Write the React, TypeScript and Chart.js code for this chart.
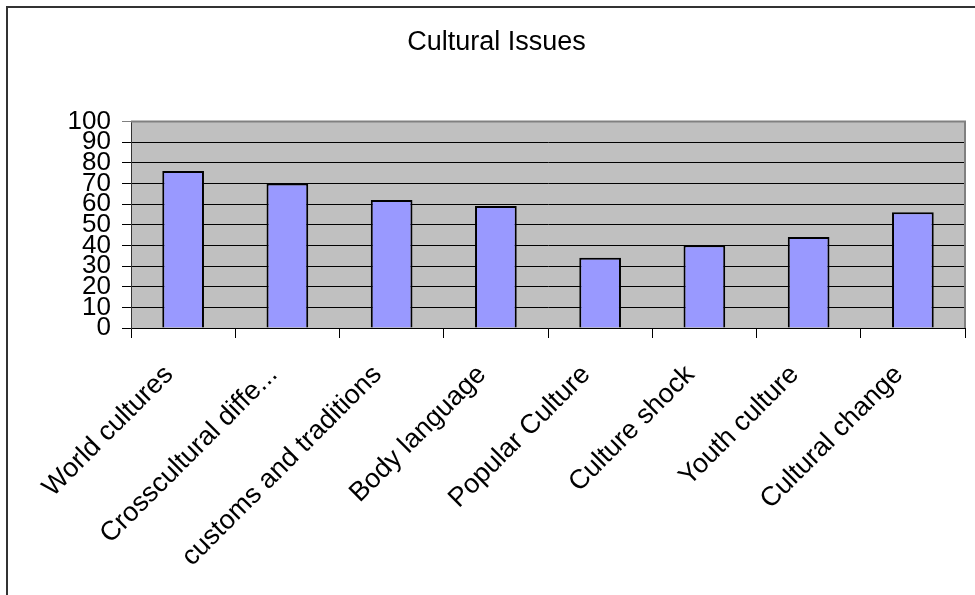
import React, { useEffect, useRef } from "react";
import { Chart, registerables } from "chart.js";

Chart.register(...registerables);

const TITLE = "Cultural Issues";
const CATEGORIES = [
  "World cultures",
  "Crosscultural diffe...",
  "customs and traditions",
  "Body language",
  "Popular Culture",
  "Culture shock",
  "Youth culture",
  "Cultural change",
];
const VALUES = [76, 70, 62, 59, 34, 40, 44, 56];
const Y_MIN = 0;
const Y_MAX = 100;
const Y_STEP = 10;

const FONT = "'Liberation Sans', Arial, sans-serif";

// Grey plot background plus a grey frame on the top and right edges.
const plotFrame = {
  id: "plotFrame",
  beforeDraw(chart: any) {
    const { ctx, chartArea: a } = chart;
    ctx.save();
    ctx.fillStyle = "#C0C0C0";
    ctx.fillRect(a.left, a.top, a.right - a.left, a.bottom - a.top);
    ctx.restore();
  },
  afterDraw(chart: any) {
    const { ctx, chartArea: a } = chart;
    ctx.save();
    ctx.strokeStyle = "#808080";
    ctx.lineWidth = 2;
    ctx.beginPath();
    ctx.moveTo(a.left, a.top);
    ctx.lineTo(a.right, a.top);
    ctx.lineTo(a.right, a.bottom);
    ctx.stroke();
    ctx.restore();
  },
};

export default function App() {
  const canvasRef = useRef<HTMLCanvasElement | null>(null);

  useEffect(() => {
    if (!canvasRef.current) return;
    const chart = new Chart(canvasRef.current, {
      type: "bar",
      data: {
        labels: CATEGORIES,
        datasets: [
          {
            data: VALUES,
            backgroundColor: "#9999FF",
            borderColor: "#000000",
            borderWidth: 2,
            barPercentage: 0.4,
            categoryPercentage: 1,
          },
        ],
      },
      options: {
        animation: false,
        responsive: false,
        maintainAspectRatio: false,
        layout: { padding: { left: 28, right: 10, top: 0, bottom: 0 } },
        plugins: {
          legend: { display: false },
          tooltip: { enabled: false },
          title: {
            display: true,
            text: TITLE,
            color: "#000",
            font: { family: FONT, size: 27, weight: "normal" as any, lineHeight: 1.2 },
            padding: { top: 26, bottom: 63 },
          },
        },
        scales: {
          x: {
            afterFit(scale: any) {
              scale.height = 267;
            },
            grid: {
              display: true,
              drawOnChartArea: false,
              drawTicks: true,
              tickLength: 10,
              color: "#000",
              lineWidth: 1,
              offset: true,
            },
            border: { display: true, color: "#000", width: 1 },
            ticks: {
              autoSkip: false,
              maxRotation: 45,
              minRotation: 45,
              padding: 21,
              labelOffset: -14,
              color: "#000",
              font: { family: FONT, size: 27 },
            },
          },
          y: {
            min: Y_MIN,
            max: Y_MAX,
            afterFit(scale: any) {
              scale.width = 103;
            },
            grid: {
              color: (c: any) => (c.tick && c.tick.value === Y_MAX ? "#808080" : "#000"),
              lineWidth: 1,
              drawTicks: true,
              tickLength: 9,
            },
            border: { display: true, color: "#333", width: 1 },
            ticks: {
              stepSize: Y_STEP,
              autoSkip: false,
              padding: 11,
              color: "#000",
              font: { family: FONT, size: 26, lineHeight: 1 },
            },
          },
        },
      },
      plugins: [plotFrame],
    });
    return () => chart.destroy();
  }, []);

  return (
    <div style={{ position: "fixed", left: 0, top: 0, width: 975, height: 595, background: "#fff" }}>
      <div
        style={{
          position: "absolute",
          left: 6,
          top: 6,
          width: 975,
          height: 595,
          borderLeft: "2px solid #333",
          borderTop: "2px solid #333",
        }}
      />
      <canvas
        ref={canvasRef}
        width={975}
        height={595}
        style={{ position: "absolute", left: 0, top: 0, width: 975, height: 595 }}
      />
    </div>
  );
}
